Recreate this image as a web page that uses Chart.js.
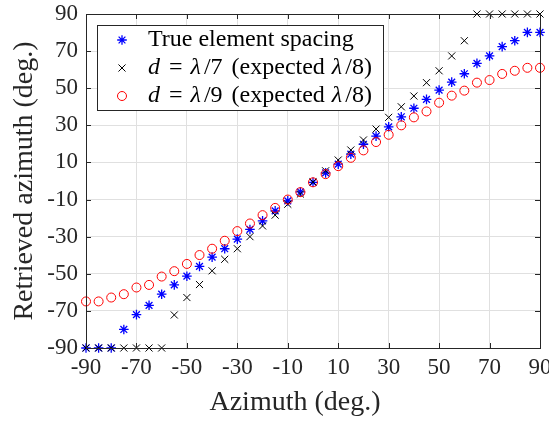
<!DOCTYPE html>
<html>
<head>
<meta charset="utf-8">
<script src="https://cdn.jsdelivr.net/npm/chart.js@4.4.1/dist/chart.umd.min.js"></script>
<style>
  html, body { margin: 0; padding: 0; background: #fff; }
  #wrap { width: 549px; height: 421px; }
</style>
</head>
<body>
<div id="wrap"><canvas id="azChart" width="549" height="421"></canvas></div>
<script>
// azimuth sweep (deg.)
const azimuth = [-90, -85, -80, -75, -70, -65, -60, -55, -50, -45, -40, -35, -30, -25, -20, -15, -10, -5,
    0, 5, 10, 15, 20, 25, 30, 35, 40, 45, 50, 55, 60, 65, 70, 75, 80, 85, 90];

// retrieved azimuth, true element spacing
const trueSpacing = [-90, -90, -90, -80, -72, -67, -61, -56, -51.3, -46, -41, -36.5, -31.3, -26.1, -21.5, -16.1, -10.7, -5.9,
    -0.7, 4.4, 9.1, 14.5, 19.8, 24.2, 29.2, 34.6, 39.2, 44, 49, 53.3, 57.8, 63.4, 67.4, 72.4, 75.6, 80.1, 80.1];

// d = lambda/7
const lambda7 = [-90, -90, -90, -90, -90, -90, -90, -72.2, -62.8, -55.8, -48.4, -42.2, -36.5, -30, -24.2, -18.4, -12.5, -7,
    -0.5, 5.5, 11.3, 16.7, 22.1, 28, 34.3, 40, 45.8, 53, 59.4, 67.4, 75.6, 90, 90, 90, 90, 90, 90];

// d = lambda/9
const lambda9 = [-64.9, -64.9, -62.8, -61, -57.4, -56, -51.5, -48.6, -44.7, -39.9, -36.5, -32.2, -27, -22.9, -18.4, -14.5, -10, -6,
    -0.7, 3.7, 8, 12.5, 16.5, 21, 24.9, 30, 34.3, 37.5, 42.2, 46, 48.7, 53, 54.4, 57.7, 59.4, 61, 61];

const tickValues = [-90, -70, -50, -30, -10, 10, 30, 50, 70, 90];

const FONT = "'Liberation Serif', 'DejaVu Serif', serif";
const INK = '#262626';

function toPoints(ys) {
    return azimuth.map((x, i) => ({ x: x, y: ys[i] }));
}

// boite + petites graduations vers l'interieur (style matlab)
const framePlugin = {
    id: 'frame',
    afterDatasetsDraw(chart) {
        const { ctx, chartArea: a, scales } = chart;
        ctx.save();
        ctx.strokeStyle = INK;
        ctx.lineWidth = 1;
        ctx.beginPath();
        tickValues.forEach(v => {
            const px = Math.round(scales.x.getPixelForValue(v)) + 0.5;
            ctx.moveTo(px, a.bottom); ctx.lineTo(px, a.bottom - 5);
            ctx.moveTo(px, a.top); ctx.lineTo(px, a.top + 5);
            const py = Math.round(scales.y.getPixelForValue(v)) + 0.5;
            ctx.moveTo(a.left, py); ctx.lineTo(a.left + 5, py);
            ctx.moveTo(a.right, py); ctx.lineTo(a.right - 5, py);
        });
        ctx.stroke();
        ctx.strokeRect(Math.round(a.left) + 0.5, Math.round(a.top) + 0.5,
            Math.round(a.right - a.left), Math.round(a.bottom - a.top));

        // titre de l'axe x (un peu decale a gauche comme dans l'original)
        ctx.fillStyle = INK;
        ctx.font = '28px ' + FONT;
        ctx.textAlign = 'center';
        ctx.textBaseline = 'middle';
        ctx.fillText('Azimuth (deg.)', (a.left + a.right) / 2 - 18, 403);
        ctx.restore();
    }
};

// legende dessinee a la main (texte en partie en italique)
const legendPlugin = {
    id: 'mathLegend',
    afterDraw(chart) {
        const ctx = chart.ctx;
        const box = { x: 97.5, y: 25.5, w: 286, h: 85 };
        ctx.save();
        ctx.fillStyle = '#fff';
        ctx.fillRect(box.x, box.y, box.w, box.h);
        ctx.strokeStyle = INK;
        ctx.lineWidth = 1;
        ctx.strokeRect(box.x, box.y, box.w, box.h);

        // [texte, italique, espace apres]
        const rows = [
            { ds: 0, y: 40, parts: [['True element spacing', false, 0]] },
            { ds: 1, y: 68, parts: [['d', true, 0], ['=', false, 0], ['λ', true, 3], ['/7', false, 3], [' (expected ', false, 1], ['λ', true, 3], ['/8)', false, 0]] },
            { ds: 2, y: 96, parts: [['d', true, 0], ['=', false, 0], ['λ', true, 3], ['/9', false, 3], [' (expected ', false, 1], ['λ', true, 3], ['/8)', false, 0]] }
        ];
        rows.forEach(r => {
            const d = chart.data.datasets[r.ds];
            ctx.strokeStyle = d.borderColor;
            ctx.fillStyle = d.backgroundColor;
            ctx.lineWidth = d.borderWidth;
            Chart.helpers.drawPoint(ctx, { pointStyle: d.pointStyle, radius: d.pointRadius, borderWidth: d.borderWidth, rotation: 0 }, 122, r.y);
            let x = 148;
            ctx.fillStyle = '#000';
            ctx.textBaseline = 'middle';
            r.parts.forEach(([txt, it, gap]) => {
                ctx.font = (it ? 'italic ' : '') + '24px ' + FONT;
                if (txt === '=') x += 9;
                ctx.fillText(txt, x, r.y);
                x += ctx.measureText(txt).width + gap;
                if (txt === '=') x += 8;
            });
        });
        ctx.restore();
    }
};

new Chart(document.getElementById('azChart'), {
    type: 'scatter',
    data: {
        datasets: [
            {
                label: 'True element spacing',
                data: toPoints(trueSpacing),
                pointStyle: 'star',
                pointRadius: 4.8,
                borderColor: '#0000ff',
                backgroundColor: '#0000ff',
                borderWidth: 1.3,
                clip: false,
                order: 3
            },
            {
                label: 'd = λ/7 (expected λ/8)',
                data: toPoints(lambda7),
                pointStyle: 'crossRot',
                pointRadius: 5,
                borderColor: '#000000',
                backgroundColor: '#000000',
                borderWidth: 1,
                clip: false,
                order: 2
            },
            {
                label: 'd = λ/9 (expected λ/8)',
                data: toPoints(lambda9),
                pointStyle: 'circle',
                pointRadius: 4.5,
                borderColor: '#ff0000',
                backgroundColor: 'rgba(0,0,0,0)',
                borderWidth: 1,
                clip: false,
                order: 1
            }
        ]
    },
    options: {
        responsive: false,
        animation: false,
        layout: { padding: { top: 14, right: 9, left: 0, bottom: 0 } },
        plugins: {
            legend: { display: false },
            tooltip: { enabled: false }
        },
        scales: {
            x: {
                type: 'linear',
                min: -90,
                max: 90,
                afterBuildTicks: s => { s.ticks = tickValues.map(v => ({ value: v })); },
                afterFit: s => { s.height = 73; s.paddingLeft = 0; s.paddingRight = 0; },
                grid: { color: '#e0e0e0', drawTicks: false },
                border: { display: false },
                ticks: { color: INK, padding: 6, maxRotation: 0, font: { family: FONT, size: 23 } }
            },
            y: {
                type: 'linear',
                min: -90,
                max: 90,
                afterBuildTicks: s => { s.ticks = tickValues.map(v => ({ value: v })); },
                afterFit: s => { s.width = 86; s.paddingTop = 0; s.paddingBottom = 0; },
                grid: { color: '#e0e0e0', drawTicks: false },
                border: { display: false },
                ticks: { color: INK, padding: 8, font: { family: FONT, size: 23 } },
                title: { display: true, text: 'Retrieved azimuth (deg.)', color: INK, padding: { top: 8, bottom: 0 }, font: { family: FONT, size: 28 } }
            }
        }
    },
    plugins: [framePlugin, legendPlugin]
});
</script>
</body>
</html>
